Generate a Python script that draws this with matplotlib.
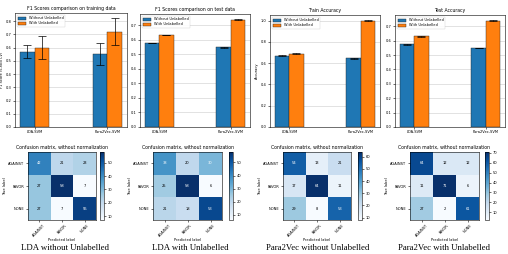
import numpy as np
import matplotlib
matplotlib.use("Agg")
import matplotlib.pyplot as plt

groups = ["LDA-SVM", "Para2Vec-SVM"]
series = ["Without Unlabelled", "With Unlabelled"]

f1_train_without = [0.57, 0.55]
f1_train_with = [0.60, 0.72]
f1_train_err_without = [0.05, 0.085]
f1_train_err_with = [0.09, 0.10]

f1_test_without = [0.58, 0.55]
f1_test_with = [0.635, 0.74]

acc_train_without = [0.67, 0.645]
acc_train_with = [0.69, 1.0]

acc_test_without = [0.575, 0.55]
acc_test_with = [0.63, 0.74]

cm_labels = ["AGAINST", "FAVOR", "NONE"]
cm_lda_without = [[42, 21, 23], [27, 58, 7], [27, 7, 55]]
cm_lda_with = [[38, 20, 30], [25, 58, 6], [21, 18, 53]]
cm_p2v_without = [[54, 13, 21], [17, 64, 11], [29, 8, 53]]
cm_p2v_with = [[64, 12, 12], [11, 71, 6], [27, 2, 61]]

captions = ["LDA without Unlabelled", "LDA with Unlabelled",
            "Para2Vec without Unlabelled", "Para2Vec with Unlabelled"]

W, H = 508, 254
fig = plt.figure(figsize=(W / 100, H / 100), dpi=100)
fig.patch.set_facecolor("white")

def px(l, t, r, b):
    return [l / W, 1 - b / H, (r - l) / W, (b - t) / H]

FS = 2.6
blue = "#1f77b4"
orange = "#ff7f0e"

def bars(rect, title, a, b, ea=None, eb=None, ylabel=None, yticks=None):
    ax = fig.add_axes(px(*rect))
    x = np.arange(len(groups))
    w = 0.2
    ax.bar(x - w / 2, a, w, yerr=ea if ea is not None else [0.002] * 2,
           color=blue, edgecolor="#222222", linewidth=0.3,
           error_kw=dict(elinewidth=0.5, capsize=3, capthick=0.5), label=series[0])
    ax.bar(x + w / 2, b, w, yerr=eb if eb is not None else [0.002] * 2,
           color=orange, edgecolor="#222222", linewidth=0.3,
           error_kw=dict(elinewidth=0.5, capsize=3, capthick=0.5), label=series[1])
    ax.set_xticks(x)
    ax.set_xticklabels(groups, fontsize=FS)
    if yticks is not None:
        ax.set_yticks(yticks)
    ax.tick_params(labelsize=FS, length=1.5, width=0.4, pad=1)
    ax.yaxis.grid(True, color="#cccccc", linewidth=0.4)
    ax.set_axisbelow(True)
    ax.set_title(title, fontsize=3.3, pad=2)
    if ylabel:
        ax.set_ylabel(ylabel, fontsize=FS, labelpad=1)
    for s in ax.spines.values():
        s.set_linewidth(0.4)
    ax.legend(loc="upper left", fontsize=FS, handlelength=2.2, handleheight=0.9,
              borderpad=0.4, labelspacing=0.3, frameon=True, framealpha=0.9,
              edgecolor="#cccccc").get_frame().set_linewidth(0.3)
    return ax

bars((15, 13, 127, 127), "F1 Scores comparison on training data",
     f1_train_without, f1_train_with, f1_train_err_without, f1_train_err_with,
     ylabel="F1 Score (5-fold CV)", yticks=np.arange(0, 0.81, 0.1))
bars((140, 14, 250, 127), "F1 Scores comparison on test data",
     f1_test_without, f1_test_with, yticks=np.arange(0, 0.71, 0.1))
bars((270, 15, 380, 127), "Train Accuracy",
     acc_train_without, acc_train_with, ylabel="Accuracy",
     yticks=np.arange(0, 1.01, 0.2))
bars((395, 15, 505, 127), "Test Accuracy",
     acc_test_without, acc_test_with, yticks=np.arange(0, 0.71, 0.1))

def cm_plot(rect, cbrect, cm, cticks, caption, cx):
    cm = np.array(cm)
    ax = fig.add_axes(px(*rect))
    im = ax.imshow(cm, cmap="Blues", interpolation="nearest", aspect="auto")
    ax.set_title("Confusion matrix, without normalization", fontsize=3.3, pad=2)
    ax.set_xticks(range(3))
    ax.set_yticks(range(3))
    ax.set_xticklabels(cm_labels, rotation=45, fontsize=FS)
    ax.set_yticklabels(cm_labels, fontsize=FS)
    ax.tick_params(length=1.5, width=0.4, pad=1)
    ax.set_xlabel("Predicted label", fontsize=FS, labelpad=0.5)
    ax.set_ylabel("True label", fontsize=FS, labelpad=1)
    thresh = cm.max() / 2.0
    for i in range(3):
        for j in range(3):
            ax.text(j, i, str(cm[i, j]), ha="center", va="center", fontsize=FS,
                    color="white" if cm[i, j] > thresh else "black")
    for s in ax.spines.values():
        s.set_linewidth(0.4)
    cax = fig.add_axes(px(*cbrect))
    cb = fig.colorbar(im, cax=cax, ticks=cticks)
    cb.ax.tick_params(labelsize=FS, length=1.5, width=0.4, pad=1)
    cb.outline.set_linewidth(0.4)
    fig.text(cx / W, 1 - 247.5 / H, caption, fontsize=6.3, family="Liberation Serif",
             ha="center", va="center")

cm_plot((28, 152, 96, 220), (100, 152, 104, 220), cm_lda_without,
        [10, 20, 30, 40, 50], captions[0], 65)
cm_plot((153, 152, 222, 220), (229, 152, 233, 220), cm_lda_with,
        [10, 20, 30, 40, 50], captions[1], 190)
cm_plot((283, 152, 351, 220), (358, 152, 362, 220), cm_p2v_without,
        [10, 20, 30, 40, 50, 60], captions[2], 318)
cm_plot((410, 152, 479, 220), (485, 152, 489, 220), cm_p2v_with,
        [10, 20, 30, 40, 50, 60, 70], captions[3], 444)

fig.savefig("out.png", dpi=100, facecolor="white")
